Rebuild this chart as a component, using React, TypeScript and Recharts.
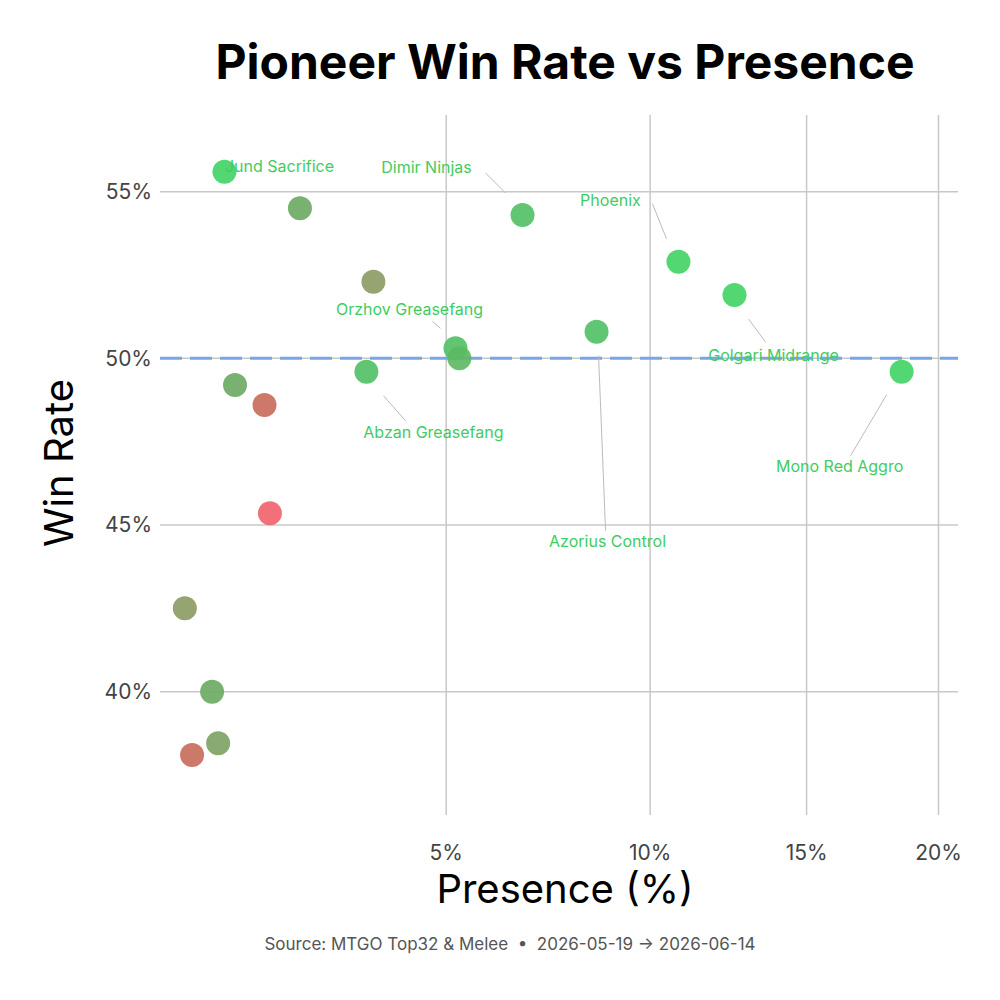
import { ScatterChart, Scatter, XAxis, YAxis, CartesianGrid, ReferenceLine } from 'recharts';

// presence (%), win rate (%), colour, label
const presence = [1.51, 2.47, 3.63, 3.51, 5.19, 5.27, 6.67, 8.52, 10.83, 12.57, 18.53, 1.63, 1.99, 2.06, 1.10, 1.375, 1.44, 1.17];
const winRate = [55.6, 54.5, 52.3, 49.6, 50.3, 50.0, 54.3, 50.8, 52.9, 51.9, 49.6, 49.2, 48.6, 45.35, 42.5, 40.0, 38.45, 38.1];
const colors = ['#3fd364', '#6aa862', '#8a9a60', '#4fc065', '#4fc065', '#5cb862', '#4fc065', '#4fc065', '#3fd364', '#3fd364', '#3fd364', '#6aa862', '#c86a5a', '#f0606a', '#8a9a60', '#6aa862', '#7aa262', '#c86a5a'];
const names = ['Jund Sacrifice', '', '', 'Abzan Greasefang', 'Orzhov Greasefang', '', 'Dimir Ninjas', 'Azorius Control', 'Phoenix', 'Golgari Midrange', 'Mono Red Aggro', '', '', '', '', '', '', ''];
const xTicks = [5, 10, 15, 20];
const yTicks = [40, 45, 50, 55];
// label offsets in px: [textDx, textDy, lineX1, lineY1, lineX2, lineY2]
const labelOffsets: Record<string, number[]> = {
  'Jund Sacrifice': [55, -4],
  'Dimir Ninjas': [-96, -46, -37, -42, -17, -22],
  'Phoenix': [-68, -60, -26, -58, -12, -23],
  'Orzhov Greasefang': [-46, -38, -23, -27, -15, -20],
  'Golgari Midrange': [39, 62, 31, 47, 14, 24],
  'Abzan Greasefang': [67, 62, 39, 49, 17, 24],
  'Azorius Control': [11, 211, 9, 199, 2, 24],
  'Mono Red Aggro': [-62, 96, -51, 84, -15, 23],
};

const data = presence.map((p, i) => ({ x: p, y: winRate[i], color: colors[i], name: names[i] }));

const Dot = (props: any) => {
  const { cx, cy, payload } = props;
  const off = labelOffsets[payload.name];
  return (
    <g>
      <circle cx={cx} cy={cy} r={12} fill={payload.color} fillOpacity={0.9} />
      {off && off.length > 2 && (
        <line x1={cx + off[2]} y1={cy + off[3]} x2={cx + off[4]} y2={cy + off[5]} stroke="#bbbbbb" strokeWidth={1} />
      )}
      {off && (
        <text x={cx + off[0]} y={cy + off[1]} textAnchor="middle" dominantBaseline="middle" fontSize={16} fill="#3fcc62">
          {payload.name}
        </text>
      )}
    </g>
  );
};

export default function App() {
  return (
    <div style={{ margin: -8, width: 1000, height: 1000, background: '#fff', position: 'relative', fontFamily: 'Inter, sans-serif' }}>
      <ScatterChart width={1000} height={1000} margin={{ top: 115, right: 42, bottom: 155, left: 100 }}>
        <CartesianGrid stroke="#c8c8c8" strokeWidth={1.5} horizontalValues={yTicks} verticalValues={xTicks} />
        <XAxis type="number" dataKey="x" scale="sqrt" domain={[0.876, 20.8]} ticks={xTicks}
          tickFormatter={(v) => `${v}%`} axisLine={false} tickLine={false}
          tick={{ fill: '#444', fontSize: 21, fontFamily: 'Inter' }} dy={22} />
        <YAxis type="number" dataKey="y" domain={[36.3, 57.3]} ticks={yTicks} width={60}
          tickFormatter={(v) => `${v}%`} axisLine={false} tickLine={false}
          tick={{ fill: '#444', fontSize: 21, fontFamily: 'Inter' }} />
        <ReferenceLine y={50} stroke="#7aa6e8" strokeWidth={3} strokeDasharray="22 8" />
        <Scatter data={data} shape={Dot} isAnimationActive={false} />
      </ScatterChart>
      <div style={{ position: 'absolute', top: 32, left: 0, width: 1130, textAlign: 'center', fontSize: 48, fontWeight: 700 }}>
        Pioneer Win Rate vs Presence
      </div>
      <div style={{ position: 'absolute', top: 864, left: 130, width: 870, textAlign: 'center', fontSize: 40 }}>
        Presence (%)
      </div>
      <div style={{ position: 'absolute', top: 463, left: 58, transform: 'translate(-50%,-50%) rotate(-90deg)', fontSize: 40, whiteSpace: 'nowrap' }}>
        Win Rate
      </div>
      <div style={{ position: 'absolute', top: 934, left: 0, width: 1020, textAlign: 'center', fontSize: 17, color: '#555' }}>
        Source: MTGO Top32 &amp; Melee&nbsp; •&nbsp; 2026-05-19 → 2026-06-14
      </div>
    </div>
  );
}
